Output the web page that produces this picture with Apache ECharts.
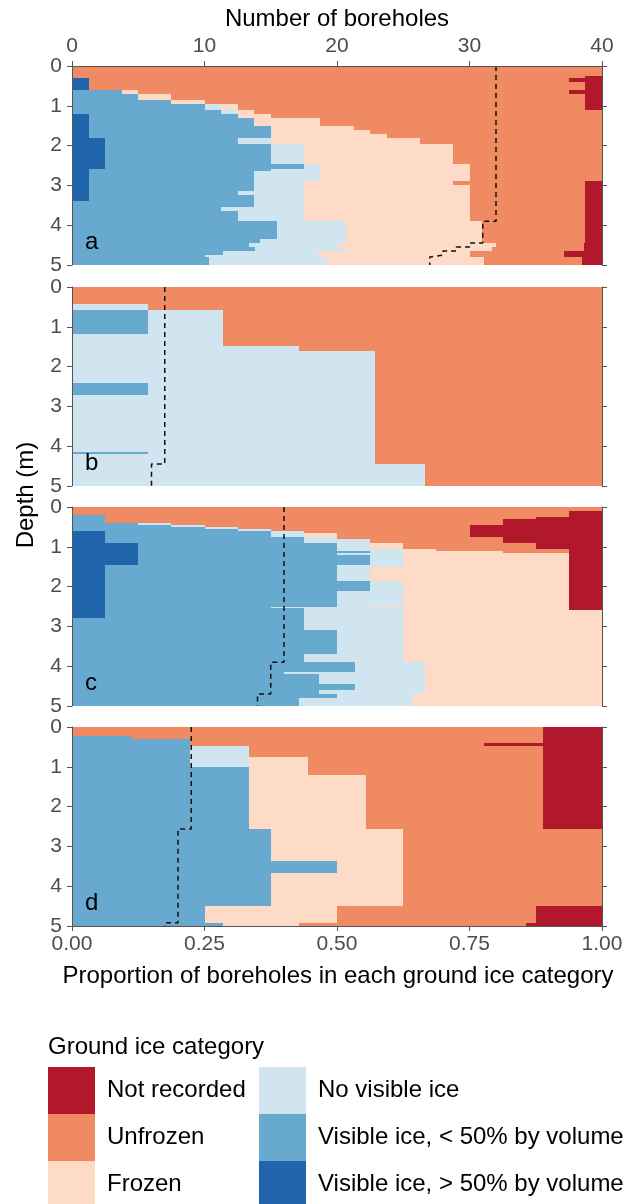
<!DOCTYPE html>
<html>
<head>
<meta charset="utf-8">
<script src="https://cdn.jsdelivr.net/npm/echarts@6/dist/echarts.min.js"></script>
<style>
html,body{margin:0;padding:0;background:#ffffff;}
#chart{width:636px;height:1204px;}
</style>
</head>
<body>
<div id="chart"></div>
<script>
// ---------------- DATA ----------------
const categories = ['Visible ice, > 50% by volume', 'Visible ice, < 50% by volume', 'No visible ice', 'Frozen', 'Unfrozen', 'Not recorded'];
const legendLeft = ['Not recorded', 'Unfrozen', 'Frozen'];
const legendRight = ['No visible ice', 'Visible ice, < 50% by volume', 'Visible ice, > 50% by volume'];
const panelLabels = ['a', 'b', 'c', 'd'];
const depthTicks = [0, 1, 2, 3, 4, 5];
const proportionTicks = [0, 0.25, 0.5, 0.75, 1];
const boreholeTicks = [0, 10, 20, 30, 40];
const maxDepth = 5;

// Panel a: depth (m) at top of each interval, boreholes reaching it, counts per category
const aDepth      = [0, 0.25, 0.3, 0.4, 0.6, 0.7, 0.85, 0.95, 1.1, 1.2, 1.3, 1.5, 1.6, 1.7, 1.8, 1.95, 2.45, 2.6, 2.65, 2.9, 3.0, 3.15, 3.25, 3.4, 3.55, 3.65, 3.9, 4.35, 4.45, 4.55, 4.65, 4.75, 4.8];
const aTotal      = [32, 32, 32, 32, 32, 32, 32, 32, 32, 32, 32, 32, 32, 32, 32, 32, 32, 32, 32, 32, 32, 32, 32, 32, 32, 32, 31, 31, 30, 29, 28, 28, 27];
const aIceHigh    = [0, 0, 1, 1, 0, 0, 0, 0, 0, 1, 1, 1, 1, 1, 2, 2, 2, 1, 1, 1, 1, 1, 1, 0, 0, 0, 0, 0, 0, 0, 0, 0, 0];
const aIceLow     = [0, 0, 0, 0, 3, 4, 6, 8, 9, 9, 10, 11, 11, 11, 8, 10, 12, 11, 10, 10, 10, 9, 10, 11, 9, 10, 12, 11, 10, 10, 8, 7, 7];
const aNoIce      = [0, 0, 0, 0, 0, 0, 0, 1, 1, 0, 0, 0, 0, 0, 2, 2, 1, 3, 4, 3, 3, 4, 3, 3, 5, 4, 4, 5, 5, 5, 5, 6, 6];
const aFrozen     = [0, 0, 0, 0, 1, 2, 2, 1, 1, 2, 4, 5, 6, 7, 9, 9, 9, 9, 9, 9, 10, 10, 10, 10, 10, 10, 8, 8, 9, 8, 8, 8, 8];
const aUnfrozen   = [32, 31, 29, 30, 26, 25, 23, 21, 21, 20, 17, 15, 14, 13, 11, 9, 8, 8, 8, 8, 7, 7, 7, 7, 7, 7, 6, 6, 5, 5, 5, 5, 5];
const aNotRec     = [0, 1, 2, 1, 2, 1, 1, 1, 0, 0, 0, 0, 0, 0, 0, 0, 0, 0, 0, 1, 1, 1, 1, 1, 1, 1, 1, 1, 1, 1, 2, 2, 1];

// Panel b
const bDepth      = [0, 0.42, 0.59, 1.18, 1.47, 1.62, 2.42, 2.72, 4.15, 4.2, 4.45];
const bTotal      = [7, 7, 7, 7, 7, 7, 7, 7, 7, 7, 6];
const bIceHigh    = [0, 0, 0, 0, 0, 0, 0, 0, 0, 0, 0];
const bIceLow     = [0, 0, 1, 0, 0, 0, 1, 0, 1, 0, 0];
const bNoIce      = [0, 1, 1, 2, 3, 4, 3, 4, 3, 4, 4];
const bFrozen     = [0, 0, 0, 0, 0, 0, 0, 0, 0, 0, 0];
const bUnfrozen   = [7, 6, 5, 5, 4, 3, 3, 3, 3, 3, 2];
const bNotRec     = [0, 0, 0, 0, 0, 0, 0, 0, 0, 0, 0];

// Panel c
const cDepth      = [0, 0.1, 0.2, 0.25, 0.3, 0.4, 0.45, 0.5, 0.55, 0.6, 0.65, 0.75, 0.8, 0.9, 1.05, 1.1, 1.15, 1.2, 1.45, 1.5, 1.85, 2.1, 2.5, 2.55, 2.6, 2.8, 3.1, 3.7, 3.9, 4.15, 4.2, 4.45, 4.6, 4.7, 4.8];
const cTotal      = [16, 16, 16, 16, 16, 16, 16, 16, 16, 16, 16, 16, 16, 16, 16, 16, 16, 16, 16, 16, 16, 16, 16, 16, 16, 16, 16, 16, 15, 15, 15, 15, 15, 14, 14];
const cIceHigh    = [0, 0, 0, 0, 0, 0, 0, 0, 0, 1, 1, 1, 1, 2, 2, 2, 2, 2, 1, 1, 1, 1, 1, 1, 1, 0, 0, 0, 0, 0, 0, 0, 0, 0, 0];
const cIceLow     = [0, 0, 1, 1, 1, 2, 3, 4, 5, 5, 5, 6, 6, 6, 6, 7, 6, 7, 7, 7, 8, 7, 5, 6, 6, 7, 8, 7, 8, 6, 7, 8, 7, 7, 6];
const cNoIce      = [0, 0, 0, 0, 0, 1, 1, 1, 1, 1, 1, 1, 2, 1, 2, 1, 2, 1, 2, 1, 1, 2, 3, 3, 3, 3, 2, 3, 2, 4, 3, 2, 3, 2, 3];
const cFrozen     = [0, 0, 0, 0, 0, 0, 0, 0, 0, 0, 1, 0, 0, 1, 1, 3, 5, 5, 5, 6, 5, 5, 6, 5, 6, 6, 6, 6, 5, 5, 5, 5, 5, 5, 5];
const cUnfrozen   = [16, 15, 14, 13, 12, 10, 8, 7, 6, 5, 4, 5, 4, 4, 4, 2, 0, 0, 0, 0, 0, 0, 0, 0, 0, 0, 0, 0, 0, 0, 0, 0, 0, 0, 0];
const cNotRec     = [0, 1, 1, 2, 3, 3, 4, 4, 4, 4, 4, 3, 3, 2, 1, 1, 1, 1, 1, 1, 1, 1, 1, 1, 0, 0, 0, 0, 0, 0, 0, 0, 0, 0, 0];

// Panel d
const dDepth      = [0, 0.23, 0.29, 0.41, 0.48, 0.76, 1.0, 1.2, 2.56, 3.36, 3.66, 4.5, 4.92];
const dTotal      = [9, 9, 9, 9, 9, 9, 9, 9, 8, 8, 8, 8, 7];
const dIceHigh    = [0, 0, 0, 0, 0, 0, 0, 0, 0, 0, 0, 0, 0];
const dIceLow     = [0, 1, 2, 2, 2, 2, 3, 3, 3, 4, 3, 2, 2];
const dNoIce      = [0, 0, 0, 0, 1, 1, 0, 0, 0, 0, 0, 0, 0];
const dFrozen     = [0, 0, 0, 0, 0, 1, 1, 2, 2, 1, 2, 2, 1];
const dUnfrozen   = [8, 7, 6, 5, 5, 4, 4, 3, 3, 3, 3, 3, 3];
const dNotRec     = [1, 1, 1, 2, 1, 1, 1, 1, 0, 0, 0, 1, 1];

// ---------------- STYLE ----------------
const palette = {
  'Visible ice, > 50% by volume': '#2166ac',
  'Visible ice, < 50% by volume': '#67a9cf',
  'No visible ice': '#d1e5f0',
  'Frozen': '#fddbc7',
  'Unfrozen': '#ef8a62',
  'Not recorded': '#b2182b'
};
const FONT = 'Liberation Sans, Arial, Helvetica, sans-serif';
const AXIS_COLOR = '#555555';
const TICK_TEXT = '#4d4d4d';
const TICK_SIZE = 21;
const TITLE_SIZE = 24;
const gridTops = [66, 287, 507, 727];
const gridHeight = 199;
const gridLeft = 72;
const gridRight = 34;

const panels = [
  { depth: aDepth, total: aTotal, counts: [aIceHigh, aIceLow, aNoIce, aFrozen, aUnfrozen, aNotRec] },
  { depth: bDepth, total: bTotal, counts: [bIceHigh, bIceLow, bNoIce, bFrozen, bUnfrozen, bNotRec] },
  { depth: cDepth, total: cTotal, counts: [cIceHigh, cIceLow, cNoIce, cFrozen, cUnfrozen, cNotRec] },
  { depth: dDepth, total: dTotal, counts: [dIceHigh, dIceLow, dNoIce, dFrozen, dUnfrozen, dNotRec] }
];

// ---------------- BUILD ----------------
const grids = [], xAxes = [], yAxes = [], series = [];
const propXAxisIndex = [];

panels.forEach((p, g) => {
  grids.push({ left: gridLeft, right: gridRight, top: gridTops[g], height: gridHeight, containLabel: false });

  const isBottom = g === panels.length - 1;
  propXAxisIndex.push(xAxes.length);
  xAxes.push({
    gridIndex: g, type: 'value', min: 0, max: 1, interval: 0.25,
    position: 'bottom', show: isBottom, z: 5,
    axisLine: { show: true, onZero: false, lineStyle: { color: AXIS_COLOR, width: 1 } },
    axisTick: { show: true, length: 5, lineStyle: { color: AXIS_COLOR } },
    axisLabel: { show: true, fontSize: TICK_SIZE, fontFamily: FONT, color: TICK_TEXT, margin: 8,
      formatter: v => v.toFixed(2) },
    splitLine: { show: false }
  });
  if (g === 0) {
    xAxes.push({
      gridIndex: 0, type: 'value', min: boreholeTicks[0], max: boreholeTicks[boreholeTicks.length - 1], interval: 10,
      position: 'top', z: 5,
      axisLine: { show: true, onZero: false, lineStyle: { color: AXIS_COLOR, width: 1 } },
      axisTick: { show: true, length: 5, lineStyle: { color: AXIS_COLOR } },
      axisLabel: { show: true, fontSize: TICK_SIZE, fontFamily: FONT, color: TICK_TEXT, margin: 9 },
      splitLine: { show: false }
    });
  }
  const yLeft = yAxes.length;
  yAxes.push({
    gridIndex: g, type: 'value', min: 0, max: maxDepth, interval: 1, inverse: true, position: 'left', z: 5,
    axisLine: { show: true, onZero: false, lineStyle: { color: AXIS_COLOR, width: 1 } },
    axisTick: { show: true, length: 5, lineStyle: { color: AXIS_COLOR } },
    axisLabel: { show: true, fontSize: TICK_SIZE, fontFamily: FONT, color: TICK_TEXT, margin: 10 },
    splitLine: { show: false }
  });
  yAxes.push({
    gridIndex: g, type: 'value', min: 0, max: maxDepth, interval: 1, inverse: true, position: 'right', z: 5,
    axisLine: { show: true, onZero: false, lineStyle: { color: AXIS_COLOR, width: 1 } },
    axisTick: { show: true, length: 5, lineStyle: { color: AXIS_COLOR } },
    axisLabel: { show: false },
    splitLine: { show: false }
  });

  const nRows = p.depth.length;
  const cum = new Array(nRows).fill(0);
  categories.forEach((cat, k) => {
    const data = [];
    for (let i = 0; i < nRows; i++) {
      const top = p.depth[i];
      const bot = i + 1 < nRows ? p.depth[i + 1] : maxDepth;
      const n = p.total[i];
      const c = p.counts[k][i];
      if (c > 0) data.push([cum[i] / n, (cum[i] + c) / n, top, bot]);
      cum[i] += c;
    }
    const color = palette[cat];
    series.push({
      type: 'custom', name: cat, xAxisIndex: propXAxisIndex[g], yAxisIndex: yLeft,
      itemStyle: { color: color }, clip: true, silent: true,
      encode: { x: [0, 1], y: [2, 3] },
      data: data,
      renderItem: function (params, api) {
        const p0 = api.coord([api.value(0), api.value(2)]);
        const p1 = api.coord([api.value(1), api.value(3)]);
        const x0 = Math.round(p0[0]), x1 = Math.round(p1[0]);
        const y0 = Math.round(p0[1]), y1 = Math.round(p1[1]);
        return {
          type: 'rect',
          shape: { x: x0, y: Math.min(y0, y1), width: x1 - x0, height: Math.abs(y1 - y0) },
          style: { fill: color }
        };
      }
    });
  });

  // dashed line: number of boreholes reaching each depth, on the 0-40 scale
  const line = [];
  for (let i = 0; i < nRows; i++) {
    const top = p.depth[i];
    const bot = i + 1 < nRows ? p.depth[i + 1] : maxDepth;
    const v = p.total[i] / boreholeTicks[boreholeTicks.length - 1];
    line.push([v, top], [v, bot]);
  }
  series.push({
    type: 'line', name: 'Boreholes ' + panelLabels[g], xAxisIndex: propXAxisIndex[g], yAxisIndex: yLeft,
    data: line, symbol: 'none', z: 4, silent: true,
    lineStyle: { color: '#111111', width: 1.5, type: [5, 4] }
  });
});

const graphics = [
  { type: 'text', x: 337, y: 19, z: 10,
    style: { text: 'Number of boreholes', fontSize: TITLE_SIZE, fontFamily: FONT, fill: '#000', align: 'center', verticalAlign: 'middle' } },
  { type: 'text', x: 26, y: 495, rotation: Math.PI / 2, z: 10,
    style: { text: 'Depth (m)', fontSize: TITLE_SIZE, fontFamily: FONT, fill: '#000', align: 'center', verticalAlign: 'middle' } },
  { type: 'text', x: 338, y: 976, z: 10,
    style: { text: 'Proportion of boreholes in each ground ice category', fontSize: TITLE_SIZE, fontFamily: FONT, fill: '#000', align: 'center', verticalAlign: 'middle' } },
  { type: 'text', x: 48, y: 1047, z: 10,
    style: { text: 'Ground ice category', fontSize: TITLE_SIZE, fontFamily: FONT, fill: '#000', align: 'left', verticalAlign: 'middle' } }
];
panelLabels.forEach((lab, g) => {
  graphics.push({ type: 'text', x: 85, y: gridTops[g] + gridHeight - 23, z: 10,
    style: { text: lab, fontSize: TITLE_SIZE, fontFamily: FONT, fill: '#000', align: 'left', verticalAlign: 'middle' } });
});

const legendCommon = {
  type: 'plain', orient: 'vertical', itemWidth: 47, itemHeight: 47, itemGap: 0, icon: 'rect', padding: 0,
  height: 200, selectedMode: true,
  textStyle: { fontSize: TITLE_SIZE, fontFamily: FONT, color: '#000', padding: [0, 0, 0, 7] }
};

const option = {
  animation: false,
  backgroundColor: '#ffffff',
  grid: grids,
  xAxis: xAxes,
  yAxis: yAxes,
  legend: [
    Object.assign({}, legendCommon, { left: 48, top: 1067, width: 205, data: legendLeft }),
    Object.assign({}, legendCommon, { left: 259, top: 1067, width: 377, data: legendRight })
  ],
  graphic: graphics,
  series: series
};

const chart = echarts.init(document.getElementById('chart'), null, { renderer: 'canvas' });
chart.setOption(option);
</script>
</body>
</html>
